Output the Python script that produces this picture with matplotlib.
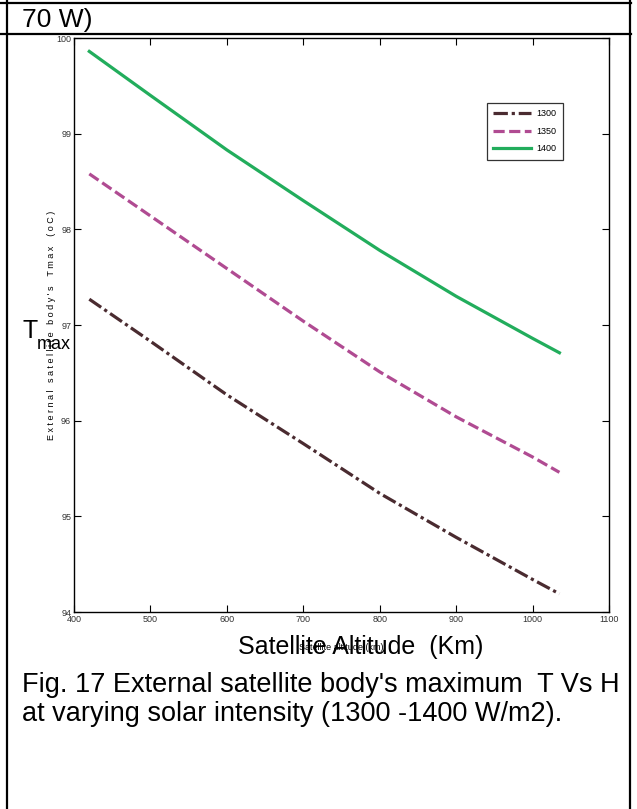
import matplotlib.pyplot as plt
from matplotlib.lines import Line2D

# data
altitude = [420, 500, 600, 700, 800, 900, 1000, 1035]
t_1300 = [97.27, 96.83, 96.27, 95.76, 95.24, 94.78, 94.34, 94.19]
t_1350 = [98.58, 98.14, 97.59, 97.04, 96.51, 96.04, 95.62, 95.46]
t_1400 = [99.86, 99.40, 98.83, 98.30, 97.78, 97.30, 96.86, 96.71]
series_labels = ['1300', '1350', '1400']
x_ticks = [400, 500, 600, 700, 800, 900, 1000, 1100]
y_ticks = [94, 95, 96, 97, 98, 99, 100]

plt.rcParams['font.family'] = ['Liberation Sans', 'DejaVu Sans']
small = ['Liberation Sans Narrow', 'Liberation Sans', 'DejaVu Sans']

fig = plt.figure(figsize=(6.37, 8.09), dpi=100)
ax = fig.add_axes([0.1162, 0.2435, 0.8400, 0.7095])

ax.plot(altitude, t_1300, color='#4a2b30', lw=2.3, dashes=(4.5, 1.2, 1.0, 1.2), label=series_labels[0])
ax.plot(altitude, t_1350, color='#b04b92', lw=2.3, dashes=(3.5, 1.4), label=series_labels[1])
ax.plot(altitude, t_1400, color='#22ad5c', lw=2.3, label=series_labels[2])

ax.set_xlim(400, 1100)
ax.set_ylim(94, 100)
ax.set_xticks(x_ticks)
ax.set_yticks(y_ticks)
ax.tick_params(direction='in', length=5, width=0.8, top=True, right=True, labelsize=6.5, pad=2)
for lab in ax.get_xticklabels() + ax.get_yticklabels():
    lab.set_family(small)
    lab.set_color('#333333')
for s in ax.spines.values():
    s.set_linewidth(1.0)

leg = ax.legend(loc='upper right', bbox_to_anchor=(0.922, 0.895), frameon=True,
                fancybox=False, edgecolor='black', handlelength=4.2, borderpad=0.7,
                labelspacing=0.95, handletextpad=0.6, prop={'family': small, 'size': 6.5})
leg.get_frame().set_linewidth(0.9)

# small axis labels from the original chart
ax.set_ylabel("E x t e r n a l   s a t e l l i t e   b o d y ' s    T m a x    ( o C )",
              fontsize=6.5, family=small, labelpad=0)
ax.set_xlabel('Satellite altitude (km)', fontsize=6.5, family=small, labelpad=14)

# document text overlaid on the chart
fig.text(0.035, 0.582, 'T', fontsize=18, va='baseline', ha='left')
fig.text(0.058, 0.568, 'max', fontsize=13, va='baseline', ha='left')
fig.text(0.567, 0.192, 'Satellite Altitude  (Km)', fontsize=18, ha='center', va='baseline')
fig.text(0.034, 0.145, "Fig. 17 External satellite body's maximum  T Vs H", fontsize=19.5, va='baseline')
fig.text(0.034, 0.109, 'at varying solar intensity (1300 -1400 W/m2).', fontsize=19.5, va='baseline')
fig.text(0.034, 0.967, '70 W)', fontsize=19, va='baseline')

# table borders around the figure
for y in (0.996, 0.958):
    fig.add_artist(Line2D([0, 0.99], [y, y], color='black', lw=1.6, transform=fig.transFigure))
for x in (0.011, 0.989):
    fig.add_artist(Line2D([x, x], [0, 1], color='black', lw=1.6, transform=fig.transFigure))

fig.savefig('out.png', dpi=100)
